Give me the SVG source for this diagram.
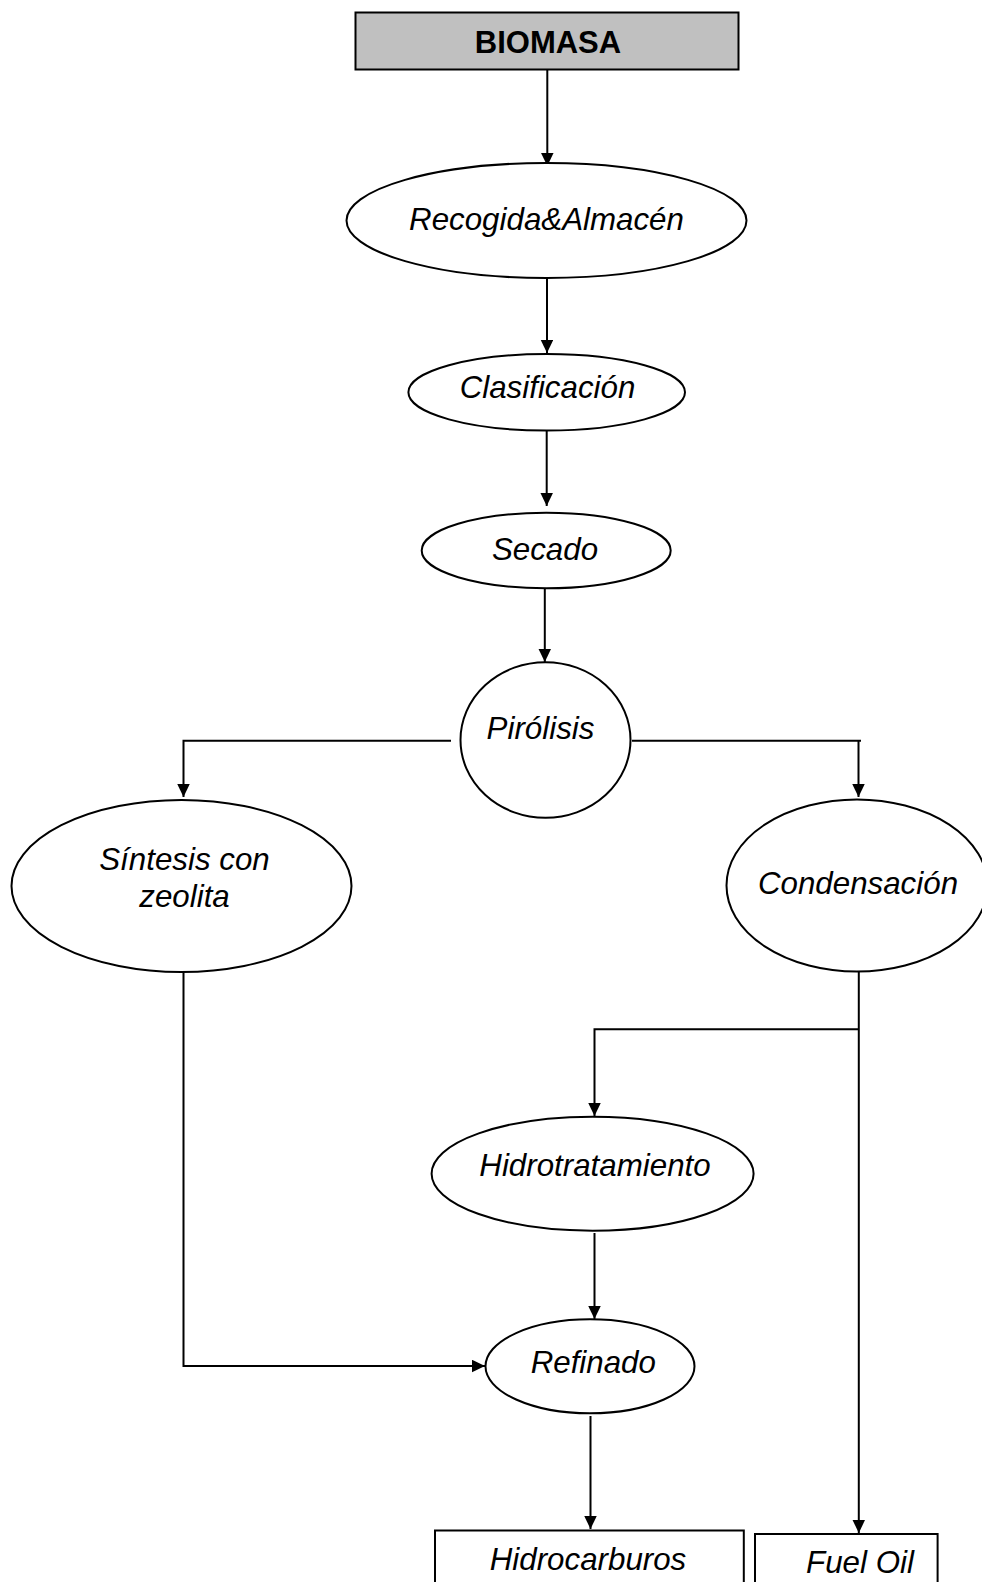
<svg xmlns="http://www.w3.org/2000/svg" width="982" height="1582" viewBox="0 0 982 1582">
<style>
.n{fill:#fff;stroke:#000;stroke-width:2}
.t{font-family:"Liberation Sans",Arial,sans-serif;font-size:31.3px;font-style:italic;text-anchor:middle;fill:#000}
.b{font-family:"Liberation Sans",Arial,sans-serif;font-size:31px;font-weight:bold;text-anchor:middle;fill:#000}
.c{fill:none;stroke:#000;stroke-width:2}
</style>
<defs>
<marker id="ah" markerUnits="userSpaceOnUse" markerWidth="14" markerHeight="13" refX="13" refY="6.25" orient="auto">
<path d="M0,0 L13,6.25 L0,12.5 z" fill="#000"/>
</marker>
</defs>
<rect width="982" height="1582" fill="#fff"/>
<g id="connectors">
<path class="c" d="M547.3,69.5 V166" marker-end="url(#ah)"/>
<path class="c" d="M547,278 V353" marker-end="url(#ah)"/>
<path class="c" d="M546.7,431 V506" marker-end="url(#ah)"/>
<path class="c" d="M544.8,588.5 V662" marker-end="url(#ah)"/>
<path class="c" d="M451,740.7 H183.5 V797" marker-end="url(#ah)"/>
<path class="c" d="M632,740.7 H861"/>
<path class="c" d="M858.5,740.7 V797" marker-end="url(#ah)"/>
<path class="c" d="M183.5,972 V1366 H485" marker-end="url(#ah)"/>
<path class="c" d="M858.8,972 V1533" marker-end="url(#ah)"/>
<path class="c" d="M858.8,1029.3 H594.5 V1116" marker-end="url(#ah)"/>
<path class="c" d="M594.5,1233 V1319" marker-end="url(#ah)"/>
<path class="c" d="M590.5,1416 V1529" marker-end="url(#ah)"/>
</g>
<g id="biomasa">
<rect x="355.5" y="12.5" width="383" height="57" fill="#c0c0c0" stroke="#000" stroke-width="2"/>
<text class="b" x="548" y="52.7">BIOMASA</text>
</g>
<g id="recogida">
<ellipse class="n" cx="546.5" cy="220.5" rx="200" ry="57.5"/>
<text class="t" x="546.5" y="230">Recogida&amp;Almacén</text>
</g>
<g id="clasificacion">
<ellipse class="n" cx="546.7" cy="392.3" rx="138.3" ry="38.3"/>
<text class="t" x="547.5" y="398.3">Clasificación</text>
</g>
<g id="secado">
<ellipse class="n" cx="546.2" cy="550.5" rx="124.5" ry="37.8"/>
<text class="t" x="545" y="560">Secado</text>
</g>
<g id="pirolisis">
<ellipse class="n" cx="545.5" cy="740" rx="85" ry="77.8"/>
<text class="t" x="540.5" y="739">Pirólisis</text>
</g>
<g id="sintesis">
<ellipse class="n" cx="181.5" cy="886" rx="170" ry="86"/>
<text class="t" x="184.5" y="870">Síntesis con</text>
<text class="t" x="184.5" y="906.7">zeolita</text>
</g>
<g id="condensacion">
<ellipse class="n" cx="857" cy="885.5" rx="130.5" ry="86"/>
<text class="t" x="858" y="894">Condensación</text>
</g>
<g id="hidrotratamiento">
<ellipse class="n" cx="592.6" cy="1173.7" rx="161" ry="57"/>
<text class="t" x="595" y="1176">Hidrotratamiento</text>
</g>
<g id="refinado">
<ellipse class="n" cx="590" cy="1366.3" rx="104.5" ry="47"/>
<text class="t" x="593.3" y="1372.5">Refinado</text>
</g>
<g id="hidrocarburos">
<rect class="n" x="435" y="1530.5" width="308.8" height="70"/>
<text class="t" x="588" y="1570">Hidrocarburos</text>
</g>
<g id="fueloil">
<rect class="n" x="755" y="1534" width="182.6" height="70"/>
<text class="t" x="860" y="1573">Fuel Oil</text>
</g>
</svg>
